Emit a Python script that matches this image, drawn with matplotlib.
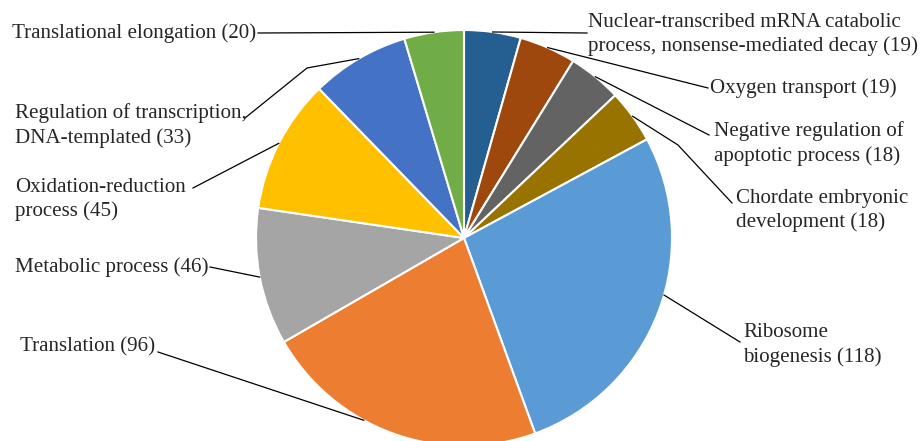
import numpy as np
import matplotlib
matplotlib.use('Agg')
import matplotlib.pyplot as plt

# data in pie order (clockwise from 12 o'clock)
names = ['Nuclear-transcribed mRNA catabolic\nprocess, nonsense-mediated decay',
         'Oxygen transport',
         'Negative regulation of\napoptotic process',
         'Chordate embryonic\ndevelopment',
         'Ribosome\nbiogenesis',
         'Translation',
         'Metabolic process',
         'Oxidation-reduction\nprocess',
         'Regulation of transcription,\nDNA-templated',
         'Translational elongation']
counts = [19, 19, 18, 18, 118, 96, 46, 45, 33, 20]
colors = ['#255E91', '#9E480E', '#636363', '#997300', '#5B9BD5',
          '#ED7D31', '#A5A5A5', '#FFC000', '#4472C4', '#70AD47']

W, H = 921, 441

# label layout in pixel coords (x, y, ha), optional elbow, line end,
# and where along the wedge the leader line touches the rim
layout = [
    dict(pos=(588, 34.5), ha='left', end=(587, 33), elbow=None, frac=0.5),
    dict(pos=(710, 88), ha='left', end=(708, 88), elbow=None, frac=0.5),
    dict(pos=(714, 143.5), ha='left', end=(709, 135), elbow=None, frac=0.5),
    dict(pos=(736, 210.5), ha='left', end=(732, 203), elbow=(678, 145), frac=0.5),
    dict(pos=(743, 345), ha='left', end=(740, 342), elbow=None, frac=0.45),
    dict(pos=(20, 347), ha='left', end=(158, 352), elbow=None, frac=0.61),
    dict(pos=(15, 267), ha='left', end=(210, 267), elbow=None, frac=0.5),
    dict(pos=(15, 199.5), ha='left', end=(193, 188), elbow=None, frac=0.5),
    dict(pos=(15, 125.5), ha='left', end=(245, 118), elbow=(307, 68), frac=0.5),
    dict(pos=(256, 33), ha='right', end=(258, 33), elbow=None, frac=0.5),
]


def py(y):
    return H - y


plt.rcParams['font.family'] = ['Liberation Serif', 'DejaVu Serif']

fig = plt.figure(figsize=(W / 100, H / 100), dpi=100)
ax = fig.add_axes([0, 0, 1, 1])

cx, cy, r = 464, py(238), 208
wedges, _ = ax.pie(counts, colors=colors, startangle=90, counterclock=False,
                   center=(cx, cy), radius=r,
                   wedgeprops=dict(edgecolor='white', linewidth=1.5))

for w, name, n, lay in zip(wedges, names, counts, layout):
    # clockwise pie: theta2 is where the wedge starts going clockwise
    ang = np.deg2rad(w.theta2 - lay['frac'] * (w.theta2 - w.theta1))
    xs = [cx + r * np.cos(ang)]
    ys = [cy + r * np.sin(ang)]
    if lay['elbow'] is not None:
        xs.append(lay['elbow'][0])
        ys.append(py(lay['elbow'][1]))
    xs.append(lay['end'][0])
    ys.append(py(lay['end'][1]))
    ax.plot(xs, ys, color='black', lw=0.9)
    ax.text(lay['pos'][0], py(lay['pos'][1]), f"{name} ({n})",
            ha=lay['ha'], va='center', fontsize=15.1, color='#262626',
            linespacing=1.34)

ax.set_xlim(0, W)
ax.set_ylim(0, H)
ax.set_aspect('equal')
ax.axis('off')
fig.savefig('out.png', dpi=100)
